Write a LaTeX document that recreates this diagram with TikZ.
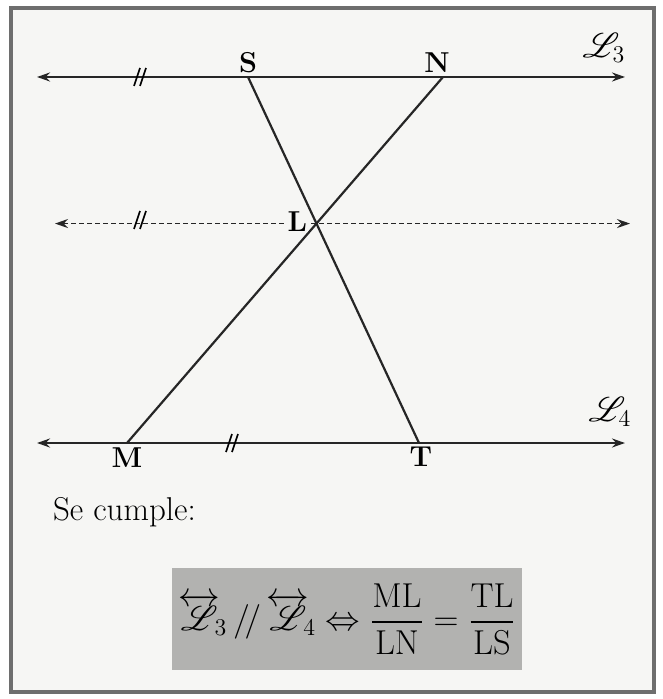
\documentclass[tikz,border=0pt]{standalone}
\usepackage{amsmath}
\usepackage{mathrsfs}
\usetikzlibrary{arrows.meta,calc,positioning}
\definecolor{frgray}{HTML}{6E6E6E}
\definecolor{boxgray}{HTML}{B2B2B0}
\definecolor{paper}{HTML}{F6F6F4}

\begin{document}
\begin{tikzpicture}[x=0.5pt, y=-0.5pt,
  line/.style={line width=1.1pt, draw=black!85},
  ray/.style={line, {Stealth[length=6.5pt,width=4.5pt]}-{Stealth[length=6.5pt,width=4.5pt]}},
  dline/.style={ray, line width=0.75pt, dash pattern=on 2.5pt off 1.5pt},
  tickmk/.style={line width=0.8pt},
  lbl/.style={font=\Large\bfseries, inner sep=1pt},
  lname/.style={inner sep=1pt, font=\LARGE},
  fbox/.style={fill=boxgray, minimum width=175pt, minimum height=51pt, inner sep=0pt},
]
  \useasboundingbox (0,0) rectangle (662,699);
  \draw[frgray, line width=2pt, fill=paper] (11,8) rectangle (654,692);

  % points ------------------------------------------------------------------
  \coordinate (S) at (248,77);
  \coordinate (N) at (443,77);
  \coordinate (M) at (127,443);
  \coordinate (T) at (419,443);
  \coordinate (L) at (intersection of S--T and N--M);
  \coordinate (l3a) at (37,77);
  \coordinate (l3b) at (625,77);
  \coordinate (l4a) at (37,443);
  \coordinate (l4b) at (625,443);
  \coordinate (da) at (L -| 55,0);
  \coordinate (db) at (L -| 630,0);

  % lines -------------------------------------------------------------------
  \draw[ray] (l3a) -- (l3b);
  \draw[ray] (l4a) -- (l4b);
  \draw[dline] (da) -- (db);
  \draw[line] (S) -- (T);
  \draw[line] (N) -- (M);

  % parallel marks
  \coordinate (t1) at (140,77);
  \coordinate (t2) at (140,220);
  \coordinate (t3) at (232,443);
  \foreach \p in {t1,t2,t3}{
    \draw[tickmk] ($(\p)+(-6,9)$) -- ++(6,-18);
    \draw[tickmk] ($(\p)+(0,9)$) -- ++(6,-18);
  }

  % labels ------------------------------------------------------------------
  \node[lbl, above=1pt of S] (sl) {S};
  \node[lbl, above=1pt of N, xshift=-3pt] (nl) {N};
  \node[lbl, left=4pt of L, yshift=1pt, fill=paper, inner sep=0.5pt] (ll) {L};
  \node[lbl, below=1pt of M] (ml) {M};
  \node[lbl, below=1pt of T, xshift=1pt] (tl) {T};
  \node[lname] (n3) at (604,48) {$\mathscr{L}_3$};
  \node[lname] (n4) at (610,412) {$\mathscr{L}_4$};

  % statement ---------------------------------------------------------------
  \node[font=\fontsize{16.5}{20}\selectfont, anchor=west] (se) at (46,512) {Se cumple:};
  \node[fbox] (frm) at (347,619) {};
  \node[font=\LARGE] (eq) at (frm.center)
    {$\overleftrightarrow{\mathscr{L}}\!_3\,/\!/\,\overleftrightarrow{\mathscr{L}}\!_4
      \Leftrightarrow \dfrac{\mathrm{ML}}{\mathrm{LN}} = \dfrac{\mathrm{TL}}{\mathrm{LS}}$};
\end{tikzpicture}
\end{document}
